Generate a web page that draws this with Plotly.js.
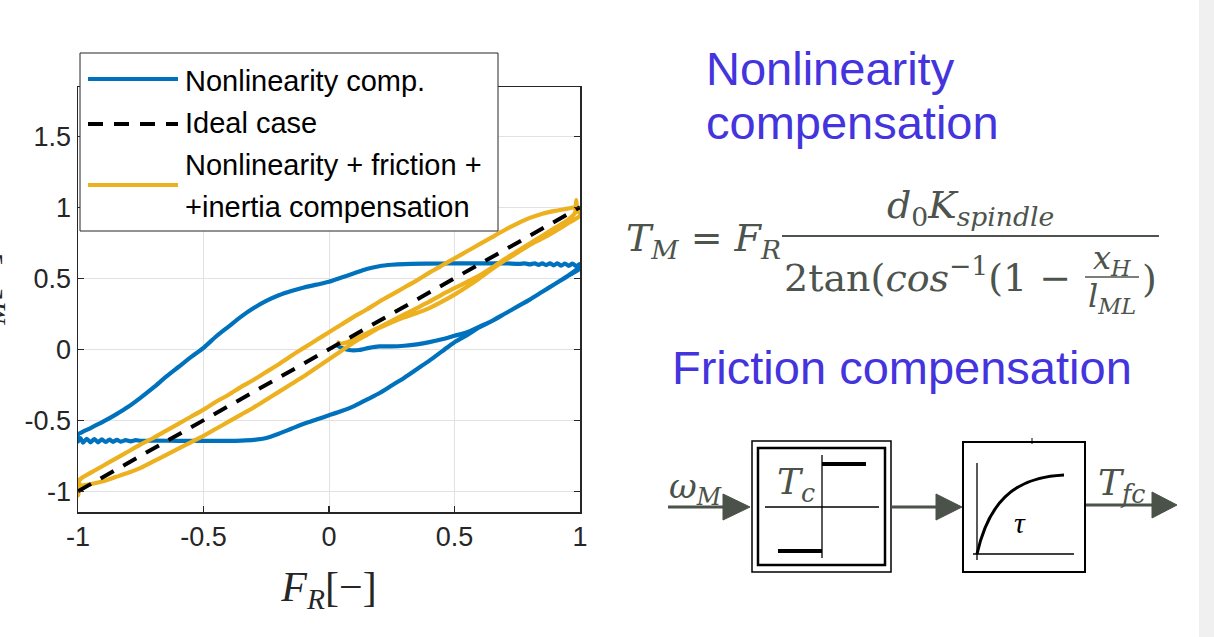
<!DOCTYPE html>
<html>
<head>
<meta charset="utf-8">
<script src="https://cdn.plot.ly/plotly-3.0.1.min.js"></script>
<style>
html,body{margin:0;padding:0;background:#ffffff;}
#chart{width:1214px;height:637px;}
</style>
</head>
<body>
<div id="chart"></div>
<script>
// ---------------- data ----------------
const xTickVals = [-1, -0.5, 0, 0.5, 1];
const xTickText = ['-1', '-0.5', '0', '0.5', '1'];
const yTickVals = [-1, -0.5, 0, 0.5, 1, 1.5];
const yTickText = ['-1', '-0.5', '0', '0.5', '1', '1.5'];

const seriesNames = ['Nonlinearity comp.', 'Ideal case', 'Nonlinearity + friction +', '+inertia compensation'];

// Nonlinearity compensation (blue)
const xNonlin = [
 0.03,0.05,0.08,0.12,0.16,0.2,0.25,0.3,0.35,0.4,0.45,0.5,0.55,0.6,0.65,0.7,0.75,0.8,0.85,0.9,0.95,1.0,
 1.0,0.985,0.97,0.955,0.94,0.925,0.91,0.895,0.88,0.865,0.85,0.835,0.82,0.8,0.78,0.76,
 0.7,0.6,0.5,0.4,0.3,0.25,0.2,0.15,0.1,0.05,0.0,-0.05,-0.1,-0.15,-0.2,-0.25,-0.3,-0.35,-0.4,-0.45,-0.5,-0.55,-0.6,-0.65,-0.7,-0.75,-0.8,-0.85,-0.9,-0.95,-0.985,-1.0,
 -1.0,-0.99,-0.98,-0.965,-0.95,-0.935,-0.92,-0.905,-0.89,-0.875,-0.86,-0.845,-0.83,-0.81,-0.79,-0.77,-0.75,
 -0.7,-0.6,-0.5,-0.4,-0.35,-0.3,-0.25,-0.2,-0.15,-0.1,-0.05,0.0,0.05,0.1,0.15,0.2,0.25,0.3,0.35,0.4,0.45,0.5,0.55,0.6,0.65,0.7,0.75,0.8,0.85,0.9,0.95,1.0
];
const yNonlin = [
 0.03,0.01,-0.005,-0.005,0.01,0.02,0.02,0.025,0.035,0.05,0.07,0.095,0.12,0.16,0.2,0.25,0.3,0.35,0.405,0.46,0.515,0.57,
 0.6,0.585,0.603,0.588,0.604,0.589,0.605,0.591,0.605,0.593,0.605,0.595,0.605,0.598,0.605,0.602,
 0.605,0.605,0.605,0.603,0.6,0.595,0.585,0.565,0.535,0.505,0.475,0.455,0.435,0.41,0.38,0.34,0.29,0.23,0.16,0.09,0.01,-0.055,-0.125,-0.195,-0.27,-0.34,-0.405,-0.46,-0.51,-0.555,-0.585,-0.6,
 -0.65,-0.625,-0.658,-0.63,-0.655,-0.632,-0.655,-0.635,-0.653,-0.637,-0.652,-0.638,-0.65,-0.64,-0.648,-0.64,-0.645,
 -0.643,-0.645,-0.645,-0.645,-0.643,-0.638,-0.625,-0.595,-0.56,-0.525,-0.495,-0.465,-0.435,-0.4,-0.355,-0.31,-0.255,-0.2,-0.14,-0.08,-0.015,0.05,0.1,0.155,0.2,0.25,0.3,0.35,0.405,0.46,0.515,0.58
];

// Ideal case (black dashed)
const xIdeal = [-1, 0, 1];
const yIdeal = [-1, 0, 1];

// Nonlinearity + friction + inertia compensation (yellow)
const xFull = [
 0.03,0.05,0.08,0.12,0.16,0.2,0.25,0.3,0.35,0.4,0.45,0.5,0.55,0.6,0.65,0.7,0.75,0.8,0.85,0.9,0.95,0.98,0.985,0.99,1.0,
 1.0,0.95,0.9,0.85,0.8,0.75,0.7,0.65,0.6,0.55,0.5,0.45,0.4,0.35,0.3,0.25,0.2,0.15,0.1,0.05,0.0,-0.05,-0.1,-0.15,-0.2,-0.25,-0.3,-0.35,-0.4,-0.45,-0.5,-0.55,-0.6,-0.65,-0.7,-0.75,-0.8,-0.85,-0.9,-0.95,-0.99,-1.0,-0.995,-1.0,
 -0.98,-0.95,-0.9,-0.85,-0.8,-0.75,-0.7,-0.65,-0.6,-0.55,-0.5,-0.45,-0.4,-0.35,-0.3,-0.25,-0.2,-0.15,-0.1,-0.05,0.0,0.05,0.1,0.15,0.2,0.25,0.3,0.35,0.4,0.45,0.5,0.55,0.6,0.65,0.7,0.75,0.8,0.85,0.9,0.95,0.98,1.0,0.995
];
const yFull = [
 0.05,0.04,0.055,0.085,0.12,0.155,0.2,0.245,0.29,0.335,0.385,0.43,0.475,0.52,0.575,0.635,0.69,0.745,0.8,0.855,0.91,0.96,1.05,0.97,0.96,
 0.94,0.885,0.83,0.78,0.735,0.68,0.625,0.565,0.5,0.44,0.385,0.335,0.29,0.255,0.225,0.19,0.15,0.1,0.05,-0.01,-0.07,-0.13,-0.19,-0.245,-0.3,-0.355,-0.41,-0.46,-0.51,-0.56,-0.61,-0.655,-0.7,-0.745,-0.79,-0.835,-0.87,-0.9,-0.93,-0.95,-0.965,-1.03,-0.94,-0.93,
 -0.9,-0.87,-0.82,-0.77,-0.72,-0.67,-0.625,-0.575,-0.525,-0.475,-0.425,-0.37,-0.32,-0.265,-0.215,-0.16,-0.105,-0.045,0.01,0.065,0.12,0.175,0.23,0.28,0.335,0.385,0.435,0.485,0.54,0.59,0.64,0.69,0.74,0.79,0.84,0.885,0.925,0.955,0.975,0.99,1.0,0.99,0.97
];

// ---------------- layout helpers ----------------
const PL = 78, PR = 580, PT = 87, PB = 512;
const fx = x => (x - PL) / (PR - PL);
const fy = y => (PB - y) / (PB - PT);

const BLUE = '#0072BD', YEL = '#EDB120', AX = '#262626', GR = '#4a5249', TITLE = '#4434dd', EQ = '#4d544d';
const SANS = 'Liberation Sans, Arial, sans-serif';
const SERIF = 'DejaVu Serif, serif';

function line(x0, y0, x1, y1, color, width, dash) {
  return {type:'line', xref:'paper', yref:'paper', x0:fx(x0), y0:fy(y0), x1:fx(x1), y1:fy(y1),
          line:{color:color, width:width, dash:dash || 'solid'}, layer:'above'};
}
function rect(x0, y0, x1, y1, color, width, fill) {
  return {type:'rect', xref:'paper', yref:'paper', x0:fx(x0), y0:fy(y0), x1:fx(x1), y1:fy(y1),
          line:{color:color, width:width}, fillcolor:fill || 'rgba(0,0,0,0)', layer:'above'};
}
function tri(xa, ya, xb, yb, xc, yc, color) {
  return {type:'path', xref:'paper', yref:'paper',
          path:`M ${fx(xa)},${fy(ya)} L ${fx(xb)},${fy(yb)} L ${fx(xc)},${fy(yc)} Z`,
          fillcolor:color, line:{color:color, width:1}, layer:'above'};
}
function txt(text, x, y, size, color, family, xanchor, yanchor, extra) {
  return Object.assign({text:text, xref:'paper', yref:'paper', x:fx(x), y:fy(y), showarrow:false,
          xanchor:xanchor || 'left', yanchor:yanchor || 'middle',
          font:{family:family, size:size, color:color}}, extra || {});
}

const shapes = [
  // right grey strip
  {type:'rect', xref:'paper', yref:'paper', x0:fx(1199), x1:fx(1214), y0:fy(0), y1:fy(637),
   line:{width:0}, fillcolor:'#f0f0f0', layer:'below'},
  // legend box
  rect(80, 53, 498, 231, AX, 1, '#ffffff'),
  line(88, 79, 178, 79, BLUE, 4),
  line(88, 124, 178, 124, '#000000', 4, '15px,11px'),
  line(88, 185, 178, 185, YEL, 4),
  // fraction bars
  line(782, 236, 1159, 236, EQ, 2),
  line(1085, 277, 1139, 277, EQ, 1.5),
  // block diagram
  line(668, 507, 725, 507, GR, 3),
  tri(723, 494, 750, 507, 723, 520, GR),
  rect(752, 441, 891, 572, '#000000', 1.5, '#ffffff'),
  rect(758, 448, 885, 565, '#000000', 2.5),
  line(765, 507, 879, 507, '#000000', 1.3),
  line(822, 455, 822, 558, '#000000', 1.3),
  line(822, 464, 866, 464, '#000000', 4),
  line(778, 551, 822, 551, '#000000', 4),
  line(891, 507, 938, 507, GR, 3),
  tri(936, 494, 962, 507, 936, 520, GR),
  rect(963, 442, 1085, 572, '#000000', 2, '#ffffff'),
  line(977, 463, 977, 560, '#000000', 1.3),
  line(973, 554, 1074, 554, '#000000', 1.3),
  {type:'path', xref:'paper', yref:'paper',
   path:`M ${fx(977)},${fy(554)} C ${fx(988)},${fy(505)} ${fx(1012)},${fy(477)} ${fx(1064)},${fy(475)}`,
   line:{color:'#000000', width:3}, layer:'above'},
  line(1032, 438, 1032, 444, '#000000', 1),
  line(1086, 505, 1154, 505, GR, 3),
  tri(1152, 492, 1177, 505, 1152, 518, GR)
];

const annotations = [
  // legend texts
  txt(seriesNames[0], 183, 81, 29, '#000000', SANS),
  txt(seriesNames[1], 183, 123, 29, '#000000', SANS),
  txt(seriesNames[2], 183, 165, 29, '#000000', SANS),
  txt(seriesNames[3], 183, 207, 29, '#000000', SANS),
  // cut-off y axis label
  txt('<i>T</i><sub><i>M</i></sub>[−]', 13, 300, 40, AX, 'Liberation Serif, serif', 'right', 'middle', {textangle:-90}),
  // right side titles
  txt('Nonlinearity', 704, 68, 47, TITLE, SANS),
  txt('compensation', 704, 122, 47, TITLE, SANS),
  txt('Friction compensation', 670, 367, 47, TITLE, SANS),
  // equation
  txt('<i>T</i><sub><i>M</i></sub> = <i>F</i><sub><i>R</i></sub>', 624, 240, 38, EQ, SERIF),
  txt('<i>d</i><sub>0</sub><i>K</i><sub><i>spindle</i></sub>', 970, 207, 38, EQ, SERIF, 'center'),
  txt('2tan(<i>cos</i><sup>−1</sup>(1 −', 782, 275, 38, EQ, SERIF),
  txt('<i>x</i><sub><i>H</i></sub>', 1112, 260, 32, EQ, SERIF, 'center'),
  txt('<i>l</i><sub><i>ML</i></sub>', 1112, 298, 32, EQ, SERIF, 'center'),
  txt(')', 1149, 279, 38, EQ, SERIF, 'center'),
  // block labels
  txt('<i>ω</i><sub><i>M</i></sub>', 695, 488, 34, GR, SERIF, 'center'),
  txt('<i>T</i><sub><i>c</i></sub>', 796, 484, 36, GR, SERIF, 'center'),
  txt('<i>τ</i>', 1020, 522, 30, '#000000', 'Liberation Serif, serif', 'center'),
  txt('<i>T</i><sub><i>fc</i></sub>', 1121, 485, 36, GR, SERIF, 'center')
];

const traces = [
  {x:xNonlin, y:yNonlin, type:'scatter', mode:'lines', name:seriesNames[0],
   line:{color:BLUE, width:4.2, shape:'spline', smoothing:0.7}, showlegend:false, hoverinfo:'skip'},
  {x:xIdeal, y:yIdeal, type:'scatter', mode:'lines', name:seriesNames[1],
   line:{color:'#000000', width:4, dash:'15px,11px'}, showlegend:false, hoverinfo:'skip'},
  {x:xFull, y:yFull, type:'scatter', mode:'lines', name:seriesNames[2] + ' ' + seriesNames[3],
   line:{color:YEL, width:4.2, shape:'spline', smoothing:0.5}, showlegend:false, hoverinfo:'skip'}
];
// blue, then yellow, ideal line on top
const ordered = [traces[0], traces[2], traces[1]];

const axisCommon = {
  ticks:'inside', ticklen:6, tickwidth:1.3, tickcolor:AX,
  showline:true, linecolor:AX, linewidth:1.5, mirror:'ticks',
  showgrid:true, gridcolor:'#e2e2e2', gridwidth:1, zeroline:false,
  tickfont:{family:SANS, size:27, color:AX}, fixedrange:true
};

const layout = {
  width:1214, height:637,
  margin:{l:PL, r:1214-PR, t:PT, b:637-PB, pad:0},
  paper_bgcolor:'#ffffff', plot_bgcolor:'#ffffff',
  showlegend:false,
  xaxis:Object.assign({}, axisCommon, {
    range:[-1, 1], tickmode:'array', tickvals:xTickVals, ticktext:xTickText,
    title:{text:'<i>F</i><sub><i>R</i></sub>[−]', font:{family:'Liberation Serif, serif', size:42, color:AX}, standoff:20}
  }),
  yaxis:Object.assign({}, axisCommon, {
    range:[-1.146, 1.847], tickmode:'array', tickvals:yTickVals, ticktext:yTickText
  }),
  shapes:shapes,
  annotations:annotations
};

Plotly.newPlot('chart', ordered, layout, {staticPlot:true, displayModeBar:false});
</script>
</body>
</html>
